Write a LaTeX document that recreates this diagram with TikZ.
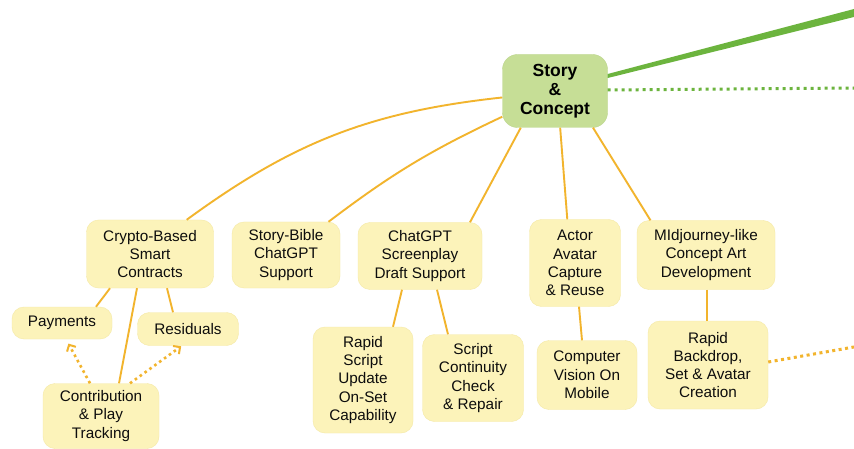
\documentclass[tikz,border=0pt]{standalone}
\usepackage{fontspec}
\setmainfont{Liberation Sans}
\usetikzlibrary{arrows.meta,calc}

\definecolor{leafyel}{RGB}{252,243,186}
\definecolor{leafedge}{RGB}{245,233,165}
\definecolor{topicgrn}{RGB}{198,222,150}
\definecolor{topicedge}{RGB}{186,212,138}
\definecolor{linkorg}{RGB}{242,180,45}
\definecolor{linkgrn}{RGB}{108,180,62}

\begin{document}
\begin{tikzpicture}[x=1pt,y=-1pt,
  topic/.style={draw=topicedge, fill=topicgrn, rounded corners=15pt, align=center, inner sep=2pt, text=black, font=\fontsize{17.5}{19}\selectfont\bfseries},
  idea/.style={draw=leafedge, fill=leafyel, rounded corners=12pt, align=center, inner sep=2pt, text=black!95, font=\fontsize{15.3}{18.3}\selectfont},
  link/.style={draw=linkorg, line width=1.9pt},
  hint/.style={draw=linkorg, line width=2.6pt, dash pattern=on 2.6pt off 3.4pt, -{Straight Barb[length=5pt,width=10pt,line width=2pt]}}]
% Canvas
\fill[white] (0,0) rectangle (854,449);
\useasboundingbox (0,0) rectangle (854,449);
% Central topic
\node[topic, minimum width=105pt, minimum height=73pt] (story) at (555,91) {Story\\\&\\Concept};
% Off-page ends
\coordinate (gtip) at (854,13);
\coordinate (gdot) at (854,88);
\coordinate (ydot) at (854,347);
\fill[linkgrn] ($(story.east)+(0,-17)$) -- ($(gtip)+(0,-4)$) -- ($(gtip)+(0,4)$) -- ($(story.east)+(0,-13)$) -- cycle;
\draw[linkgrn, line width=3pt, dash pattern=on 3pt off 4pt] ($(story.east)+(0,-1)$) -- (gdot);
% First level ideas
\node[idea, minimum width=127pt, minimum height=68pt] (crypto) at (150,254) {Crypto-Based\\Smart\\Contracts};
\node[idea, minimum width=108pt, minimum height=66pt] (bible) at (286,255) {Story-Bible\\ChatGPT\\Support};
\node[idea, minimum width=124pt, minimum height=67pt] (screen) at (420,256) {ChatGPT\\Screenplay\\Draft Support};
\node[idea, minimum width=91pt, minimum height=87pt] (actor) at (575,263) {Actor\\Avatar\\Capture\\\& Reuse};
\node[idea, minimum width=138pt, minimum height=69pt] (mid) at (706,255) {MIdjourney-like\\Concept Art\\Development};
% Second level ideas
\node[idea, minimum width=100pt, minimum height=32pt] (pay) at (62,323) {Payments};
\node[idea, minimum width=101pt, minimum height=33pt] (resid) at (188,329) {Residuals};
\node[idea, minimum width=116pt, minimum height=65pt] (contrib) at (101,416) {Contribution\\\& Play\\Tracking};
\node[idea, minimum width=100pt, minimum height=106pt] (rapid) at (363,380) {Rapid\\Script\\Update\\On-Set\\Capability};
\node[idea, minimum width=101pt, minimum height=87pt] (cont) at (473,378) {Script\\Continuity\\Check\\\& Repair};
\node[idea, minimum width=100pt, minimum height=69pt] (vision) at (587,375) {Computer\\Vision On\\Mobile};
\node[idea, minimum width=120pt, minimum height=88pt] (back) at (708,365) {Rapid\\Backdrop,\\Set \& Avatar\\Creation};
% Story to first level
\draw[link] (story.187) to[bend right=15] (crypto.43);
\draw[link] (story.206) to[bend right=6] (bible.38);
\foreach \a/\b/\n in {227/34/screen, 278/100/actor, 316/148/mid} {
  \draw[link] (story.\a) -- (\n.\b);
}
% Second level links
\draw[link] ($(crypto.south)+(-40,0)$) -- ($(pay.north)+(34,0)$);
\draw[link] ($(crypto.south)+(17,0)$) -- ($(resid.north)+(-15,0)$);
\draw[link] ($(crypto.south)+(-13,0)$) -- ($(contrib.north)+(18,0)$);
\draw[link] ($(screen.south)+(-18,0)$) -- ($(rapid.north)+(30,0)$);
\draw[link] ($(screen.south)+(17,0)$) -- ($(cont.north)+(-25,0)$);
\draw[link] ($(actor.south)+(4,0)$) -- ($(vision.north)+(-5,0)$);
\draw[link] ($(mid.south)+(1,0)$) -- ($(back.north)+(-1,0)$);
% Dotted hints
\draw[hint, shorten >=5pt] ($(contrib.north)+(-11,0)$) -- ($(pay.south)+(4,0)$);
\draw[hint, shorten >=1pt] ($(contrib.north)+(29,0)$) -- ($(resid.south)+(-6,0)$);
\draw[linkorg, line width=3pt, dash pattern=on 3pt off 3.5pt] ($(back.east)+(0,-3)$) -- (ydot);
\end{tikzpicture}
\end{document}
